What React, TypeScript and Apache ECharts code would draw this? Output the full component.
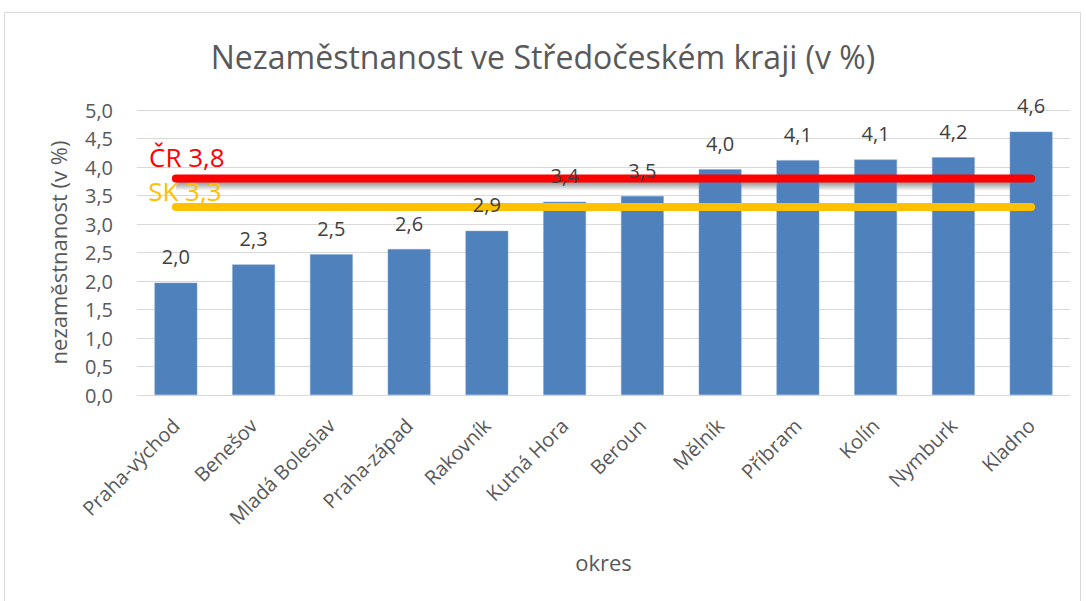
import React, { useEffect, useRef } from "react";
import * as echarts from "echarts";

const categories = [
  "Praha-východ",
  "Benešov",
  "Mladá Boleslav",
  "Praha-západ",
  "Rakovník",
  "Kutná Hora",
  "Beroun",
  "Mělník",
  "Příbram",
  "Kolín",
  "Nymburk",
  "Kladno",
];
const unemployment = [1.97, 2.29, 2.47, 2.56, 2.88, 3.39, 3.49, 3.96, 4.12, 4.13, 4.17, 4.62];
const crAverage = 3.8;
const skAverage = 3.3;
const crLabel = "ČR 3,8";
const skLabel = "SK 3,3";

const FONT = "'Open Sans', 'Noto Sans', sans-serif";
const fmt = (v: number) => v.toFixed(1).replace(".", ",");

export default function App() {
  const ref = useRef<HTMLDivElement>(null);
  useEffect(() => {
    if (!ref.current) return;
    const chart = echarts.init(ref.current, null, { renderer: "svg" });
    const last = categories.length - 1;
    chart.setOption({
      animation: false,
      backgroundColor: "#ffffff",
      textStyle: { fontFamily: FONT },
      title: {
        text: "Nezaměstnanost ve Středočeském kraji (v %)",
        left: "center",
        top: 35,
        textStyle: { fontFamily: FONT, fontSize: 32, fontWeight: "normal", color: "#595959" },
      },
      graphic: [
        {
          type: "rect",
          shape: { x: 4.5, y: 12.5, width: 1076, height: 600 },
          style: { fill: "none", stroke: "#d9d9d9", lineWidth: 1 },
          silent: true,
        },
      ],
      grid: { left: 137, right: 16, top: 110, bottom: 206 },
      xAxis: {
        type: "category",
        data: categories,
        name: "okres",
        nameLocation: "middle",
        nameGap: 156,
        nameTextStyle: { fontFamily: FONT, fontSize: 22, color: "#595959" },
        axisLine: { lineStyle: { color: "#d9d9d9", width: 1 } },
        axisTick: { show: false },
        axisLabel: { rotate: 45, fontSize: 20, color: "#595959", margin: 27, interval: 0 },
      },
      yAxis: {
        type: "value",
        min: 0,
        max: 5,
        interval: 0.5,
        name: "nezaměstnanost (v %)",
        nameLocation: "middle",
        nameGap: 68,
        nameTextStyle: { fontFamily: FONT, fontSize: 22, color: "#595959" },
        axisLine: { show: false },
        axisTick: { show: false },
        axisLabel: { fontSize: 20, color: "#595959", margin: 24, formatter: (v: number) => fmt(v) },
        splitLine: { lineStyle: { color: "#d9d9d9", width: 1 } },
      },
      series: [
        {
          type: "bar",
          data: unemployment,
          barWidth: "55%",
          itemStyle: { color: "#4f81bd", borderColor: "#7fa3d0", borderWidth: 0.5 },
          z: 2,
        },
        {
          // transparent twin of the bars, only to draw the value labels above the lines
          type: "bar",
          data: unemployment,
          barWidth: "55%",
          barGap: "-100%",
          silent: true,
          itemStyle: { color: "rgba(0,0,0,0)" },
          label: {
            show: true,
            position: "top",
            distance: 16,
            fontSize: 20,
            color: "#404040",
            formatter: (p: any) => fmt(p.value),
          },
          z: 10,
        },
        {
          type: "line",
          data: [
            {
              value: [categories[0], crAverage],
              label: {
                show: true,
                position: "top",
                offset: [11, -3],
                formatter: crLabel,
                fontSize: 26,
                color: "#ff0000",
              },
            },
            { value: [categories[last], crAverage] },
          ],
          symbol: "circle",
          symbolSize: 0,
          showSymbol: true,
          lineStyle: { color: "#ff0000", width: 8, cap: "round" },
          itemStyle: { color: "#ff0000" },
          markArea: {
            silent: true,
            itemStyle: {
              color: {
                type: "linear",
                x: 0,
                y: 0,
                x2: 0,
                y2: 1,
                colorStops: [
                  { offset: 0, color: "rgba(0,0,0,0.6)" },
                  { offset: 1, color: "rgba(0,0,0,0)" },
                ],
              },
            },
            data: [[{ coord: [categories[0], crAverage] }, { coord: [categories[last], crAverage - 0.22] }]],
          },
          z: 4,
        },
        {
          type: "line",
          data: [
            {
              value: [categories[0], skAverage],
              label: {
                show: true,
                position: "top",
                offset: [9, 2],
                formatter: skLabel,
                fontSize: 26,
                color: "#ffc000",
              },
            },
            { value: [categories[last], skAverage] },
          ],
          symbol: "circle",
          symbolSize: 0,
          showSymbol: true,
          lineStyle: { color: "#ffc000", width: 8, cap: "round" },
          itemStyle: { color: "#ffc000" },
          z: 3,
        },
      ],
    });
    return () => chart.dispose();
  }, []);
  return (
    <div
      ref={ref}
      style={{ position: "absolute", left: 0, top: 0, width: 1086, height: 601 }}
    />
  );
}
